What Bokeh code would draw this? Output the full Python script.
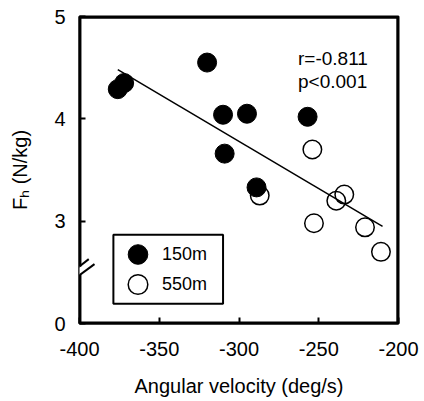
from bokeh.plotting import figure
from bokeh.models import (FixedTicker, Legend, LegendItem, Label,
                          BoxAnnotation, PolyAnnotation, Arrow, Range1d)
from bokeh.embed import file_html
from bokeh.resources import INLINE

# ---- data ----
x150 = [-376, -372, -320, -310, -295, -309, -289, -257]
y150 = [4.29, 4.35, 4.55, 4.04, 4.05, 3.66, 3.33, 4.02]
x550 = [-287, -254, -239, -234, -253, -221, -211]
y550 = [3.25, 3.70, 3.20, 3.26, 2.98, 2.94, 2.70]
fit_x = [-376, -210]
fit_y = [4.48, 2.95]
x_ticks = [-400, -350, -300, -250, -200]
x_tick_labels = ["-400", "-350", "-300", "-250", "-200"]
y_ticks = [2, 3, 4, 5]
y_tick_labels = ["0", "3", "4", "5"]
stats_text = ["r=-0.811", "p<0.001"]
series_names = ["150m", "550m"]
# axis-break mark (display units; 2 on the axis stands for 0)
break_x0 = [-405.6, -402.5]
break_y0 = [2.492, 2.443]
break_x1 = [-394.2, -390.6]
break_y1 = [2.629, 2.580]
# legend frame (display units)
legend_xs = [-378.75, -310, -310, -378.75]
legend_ys = [2.867, 2.867, 2.192, 2.192]

FONT = "Liberation Sans"
X0, X1 = x_ticks[0], x_ticks[-1]
Y0, Y1 = y_ticks[0], y_ticks[-1]
DX, DY = 0.6, 0.01   # inward nudge for the top/right frame lines

p = figure(frame_width=319, frame_height=307, output_backend="svg",
           toolbar_location=None, x_range=Range1d(X0, X1), y_range=Range1d(Y0, Y1),
           min_border_left=79, min_border_right=26, min_border_top=16, min_border_bottom=78)
p.outline_line_color = "black"
p.outline_line_alpha = 1.0
p.outline_line_width = 2
p.grid.visible = False
p.background_fill_color = "white"
p.border_fill_color = "white"

for ax in (p.xaxis[0], p.yaxis[0]):
    ax.axis_line_width = 2
    ax.axis_line_color = "black"
    ax.major_tick_in = 6
    ax.major_tick_out = 0
    ax.major_tick_line_width = 2
    ax.minor_tick_line_color = None
    ax.major_label_text_font = FONT
    ax.major_label_text_font_size = "20px"
    ax.major_label_text_color = "black"
    ax.axis_label_text_font = FONT
    ax.axis_label_text_font_size = "20px"
    ax.axis_label_text_font_style = "normal"
    ax.axis_label_text_color = "black"

p.xaxis[0].ticker = FixedTicker(ticks=x_ticks)
p.xaxis[0].major_label_overrides = dict(zip(x_ticks, x_tick_labels))
p.yaxis[0].ticker = FixedTicker(ticks=y_ticks)
p.yaxis[0].major_label_overrides = dict(zip(y_ticks, y_tick_labels))
p.xaxis[0].axis_label = "Angular velocity (deg/s)"
p.yaxis[0].axis_label = "F\u2095 (N/kg)"
p.xaxis[0].major_label_standoff = 18
p.xaxis[0].axis_label_standoff = 16
p.yaxis[0].major_label_standoff = 14
p.yaxis[0].axis_label_standoff = 20

# frame box drawn as an unfilled quad, nudged just inside the plot area
p.quad(left=[X0 + DX], right=[X1 - DX], bottom=[Y0 + DY], top=[Y1 - DY],
       fill_color=None, line_color="black", line_width=2)
p.multi_line(xs=[[X0, X1], [X1 - DX, X1 - DX]], ys=[[Y1 - DY, Y1 - DY], [Y1, Y0]],
             line_color="black", line_width=2)

# regression line
p.line(fit_x, fit_y, line_color="black", line_width=1.5)

r550 = p.scatter(x550, y550, size=18.5, marker="circle", fill_color=None,
                 line_color="black", line_width=1.5)
r150 = p.scatter(x150, y150, size=19, marker="circle", fill_color="black",
                 line_color="black", line_width=1)

# legend frame
p.add_layout(PolyAnnotation(xs=legend_xs, ys=legend_ys,
                            fill_color="white", fill_alpha=1.0, line_color="black",
                            line_alpha=1.0, line_width=2, level="annotation"))
for name, rend, loc in ((series_names[0], r150, (34, 44)), (series_names[1], r550, (34, 14))):
    lg = Legend(items=[LegendItem(label=name, renderers=[rend])],
                location=loc, margin=0, padding=0, spacing=0,
                glyph_width=49, glyph_height=50, label_standoff=0,
                label_text_font=FONT, label_text_font_size="18px",
                label_text_color="black", border_line_color=None,
                background_fill_alpha=0, level="overlay")
    p.add_layout(lg)

p.add_layout(Label(x=-263, y=4.586, text=stats_text[0], text_font=FONT,
                   text_font_size="19px", text_baseline="alphabetic", text_color="black"))
p.add_layout(Label(x=-263, y=4.367, text=stats_text[1], text_font=FONT,
                   text_font_size="19px", text_baseline="alphabetic", text_color="black"))

# axis break
p.add_layout(BoxAnnotation(left=-403, right=-397, bottom=2.478, top=2.556,
                           fill_color="white", fill_alpha=1, line_color=None,
                           level="overlay"))
for i in range(2):
    p.add_layout(Arrow(x_start=break_x0[i], y_start=break_y0[i],
                       x_end=break_x1[i], y_end=break_y1[i], end=None,
                       line_width=2, line_color="black", level="overlay"))

open("out.html", "w").write(file_html(p, INLINE))
